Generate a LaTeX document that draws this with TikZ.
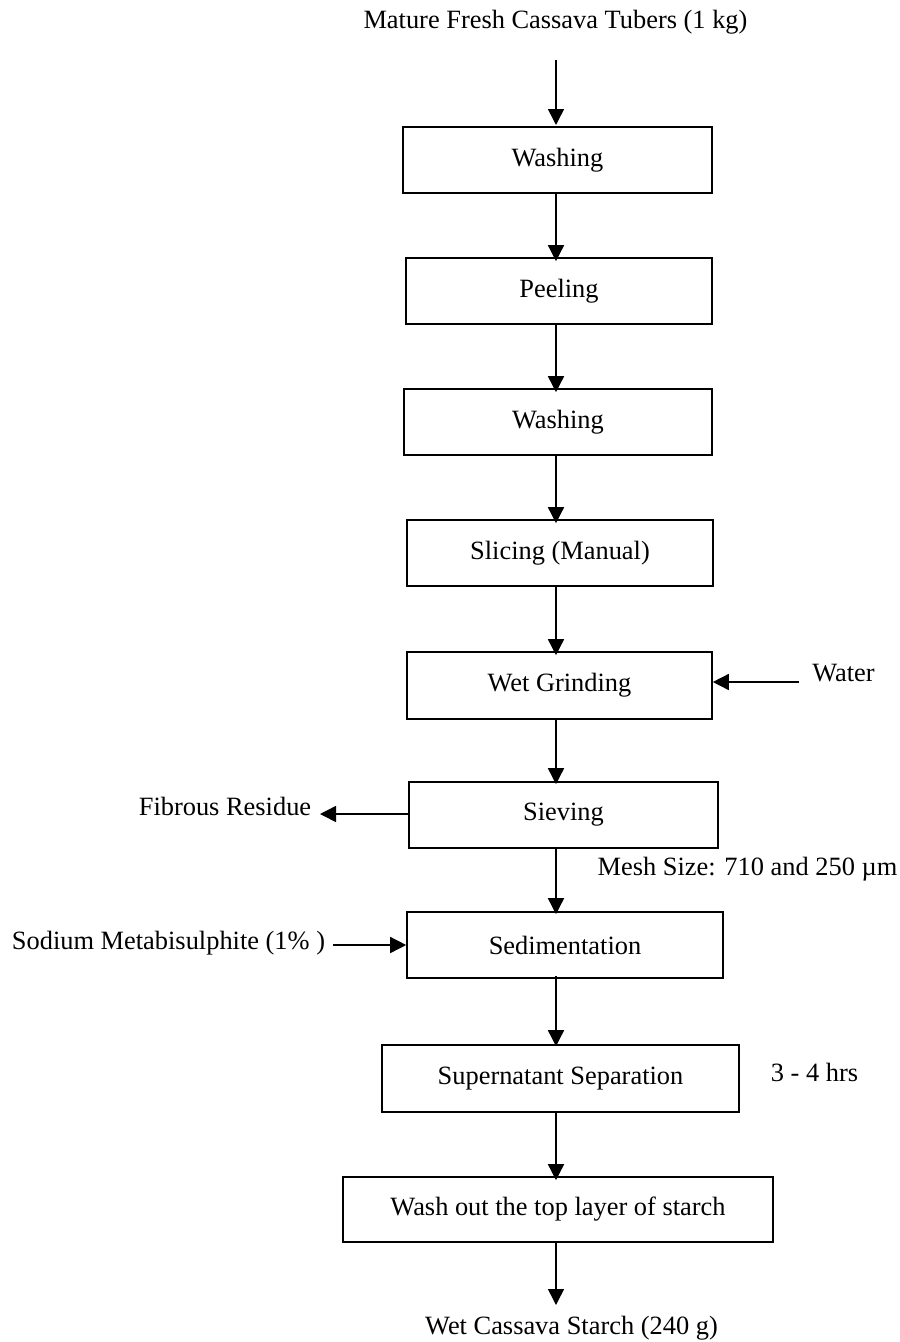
\documentclass[tikz,border=0pt]{standalone}
\usepackage{fontspec}
\setmainfont{Liberation Serif}
\usetikzlibrary{arrows.meta}
\begin{document}
\begin{tikzpicture}[x=1pt,y=-1pt,
  font=\fontsize{26.4}{30}\selectfont,
  stepbox/.style={draw,line width=1.6pt,rectangle,inner sep=0pt,anchor=center},
  lbl/.style={inner sep=0pt,anchor=center},
  arr/.style={line width=1.5pt,-{Triangle[length=16pt,width=16pt]}}]
\useasboundingbox (0,0) rectangle (900,1342);
% boxes (center x, center y, width, height)
\node[stepbox,minimum width=309pt,minimum height=66pt] (wash1) at (557.5,160) {Washing};
\node[stepbox,minimum width=306pt,minimum height=66pt] (peel) at (559,291) {Peeling};
\node[stepbox,minimum width=308pt,minimum height=66pt] (wash2) at (558,422) {Washing};
\node[stepbox,minimum width=306pt,minimum height=66pt] (slice) at (560,553) {Slicing (Manual)};
\node[stepbox,minimum width=305pt,minimum height=67pt] (grind) at (559.5,685.5) {Wet Grinding};
\node[stepbox,minimum width=309pt,minimum height=66pt] (sieve) at (563.5,815) {Sieving};
\node[stepbox,minimum width=316pt,minimum height=66pt] (sed) at (565,945) {Sedimentation};
\node[stepbox,minimum width=357pt,minimum height=67pt] (super) at (560.5,1078.5) {Supernatant Separation};
\node[stepbox,minimum width=430pt,minimum height=65pt] (washout) at (558,1209.5) {Wash out the top layer of starch};
% labels
\node[lbl] (start) at (555.5,22) {Mature Fresh Cassava Tubers (1 kg)};
\node[lbl] (finish) at (571.5,1328) {Wet Cassava Starch (240 g)};
\node[lbl] (water) at (843.5,673) {Water};
\node[lbl] (fibre) at (225,806) {Fibrous Residue};
\node[lbl] (mesh) at (747.5,869) {Mesh Size: 710 and 250 µm};
\node[lbl] (sodium) at (168.5,943) {Sodium Metabisulphite (1\% )};
\node[lbl] (hrs) at (814.5,1072) {3 - 4 hrs};
% connector coordinates
\coordinate (c0) at (556,60);
\coordinate (c0e) at (556,125);
\coordinate (cend) at (556,1305);
\coordinate (wstart) at (799,682);
\coordinate (fend) at (320,814);
\coordinate (sstart) at (333,945);
% main flow
\draw[arr] (c0) -- (c0e);
\draw[arr] (c0 |- wash1.south) -- ([yshift=-4pt]c0 |- peel.north);
\draw[arr] (c0 |- peel.south) -- ([yshift=-4pt]c0 |- wash2.north);
\draw[arr] (c0 |- wash2.south) -- ([yshift=-4pt]c0 |- slice.north);
\draw[arr] (c0 |- slice.south) -- ([yshift=-4pt]c0 |- grind.north);
\draw[arr] (c0 |- grind.south) -- ([yshift=-3pt]c0 |- sieve.north);
\draw[arr] (c0 |- sieve.south) -- ([yshift=-3pt]c0 |- sed.north);
\draw[arr] ([yshift=3pt]c0 |- sed.south) -- ([yshift=-2pt]c0 |- super.north);
\draw[arr] (c0 |- super.south) -- ([yshift=-4pt]c0 |- washout.north);
\draw[arr] (c0 |- washout.south) -- (cend);
% side streams
\draw[arr] (wstart) -- (grind.east |- wstart);
\draw[arr] (sieve.west |- fend) -- (fend);
\draw[arr] (sstart) -- (sed.west |- sstart);
\end{tikzpicture}
\end{document}
